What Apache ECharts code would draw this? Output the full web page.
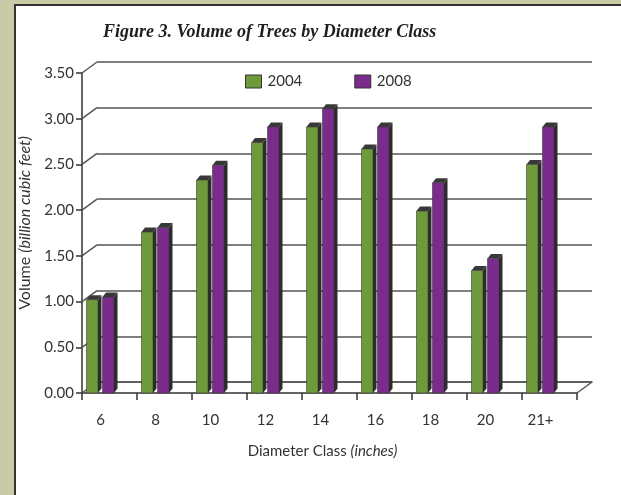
<!DOCTYPE html>
<html>
<head>
<meta charset="utf-8">
<script src="https://cdn.jsdelivr.net/npm/echarts@6/dist/echarts.min.js"></script>
<style>
  html, body { margin: 0; padding: 0; background: #fff; }
  #chart { width: 621px; height: 495px; }
</style>
</head>
<body>
<div id="chart"></div>
<script>
// 数据
var categories = ['6', '8', '10', '12', '14', '16', '18', '20', '21+'];
var vol2004 = [1.02, 1.76, 2.33, 2.74, 2.91, 2.67, 1.99, 1.34, 2.50];
var vol2008 = [1.05, 1.81, 2.49, 2.91, 3.11, 2.91, 2.30, 1.47, 2.91];
var yTicks = [0, 0.5, 1, 1.5, 2, 2.5, 3, 3.5];

var DX = 15, DY = 11;
var labelFont = 'Lato';

// 3D 柱子
var barRenderer = function (shift) {
  return function (params, api) {
    var top = api.coord([api.value(0), api.value(1)]);
    var base = api.coord([api.value(0), 0]);
    var w = 11.5, d = 3.5, h = 4.5;
    var x0 = top[0] + shift, x1 = x0 + w;
    return {
      type: 'group',
      children: [
        {
          type: 'rect',
          shape: { x: x0, y: top[1], width: w, height: base[1] - top[1] },
          style: { fill: api.visual('color'), stroke: '#3a3a3a', lineWidth: 0.6 }
        },
        {
          type: 'polygon',
          shape: { points: [[x1, top[1]], [x1 + d, top[1] - h], [x1 + d, base[1] - h], [x1, base[1]]] },
          style: { fill: '#2c2c2c' }
        },
        {
          type: 'polygon',
          shape: { points: [[x0, top[1]], [x0 + d, top[1] - h], [x1 + d, top[1] - h], [x1, top[1]]] },
          style: { fill: '#383838' }
        }
      ]
    };
  };
};

// 墙面连接线
var connectorRenderer = function (params, api) {
  var p = api.coord([0, api.value(1)]);
  var cs = params.coordSys;
  var children = [{
    type: 'line',
    shape: { x1: cs.x, y1: p[1], x2: cs.x + DX, y2: p[1] - DY },
    style: { stroke: '#555', lineWidth: 1.5 }
  }];
  if (api.value(1) === 0) {
    children.push({
      type: 'line',
      shape: { x1: cs.x + cs.width, y1: p[1], x2: cs.x + cs.width + DX, y2: p[1] - DY },
      style: { stroke: '#555', lineWidth: 1.5 }
    });
  }
  return { type: 'group', children: children };
};

var option = {
  backgroundColor: '#fff',
  animation: false,
  graphic: {
    elements: [
      { type: 'rect', left: 0, top: 0, shape: { width: 14, height: 495 }, style: { fill: '#c9caa6' } },
      { type: 'rect', left: 0, top: 0, shape: { width: 621, height: 4 }, style: { fill: '#c9caa6' } },
      { type: 'rect', left: 14, top: 4, shape: { width: 2, height: 491 }, style: { fill: '#333' } },
      { type: 'rect', left: 14, top: 4, shape: { width: 607, height: 2 }, style: { fill: '#333' } }
    ]
  },
  title: {
    text: 'Figure 3. Volume of Trees by Diameter Class',
    left: 98,
    top: 18,
    textStyle: {
      fontFamily: 'Liberation Serif',
      fontStyle: 'italic',
      fontWeight: 'bold',
      fontSize: 18,
      color: '#1e1e1e'
    }
  },
  legend: {
    data: ['2004', '2008'],
    left: 240,
    top: 69,
    icon: 'rect',
    itemWidth: 16,
    itemHeight: 13,
    itemGap: 52,
    itemStyle: { borderColor: '#333', borderWidth: 1 },
    textStyle: { fontFamily: labelFont, fontSize: 15, color: '#333', padding: [0, 0, 0, 1] }
  },
  grid: [
    { left: 82, top: 73, width: 495, height: 320 },
    { left: 82 + DX, top: 73 - DY, width: 495, height: 320 }
  ],
  xAxis: [
    {
      type: 'category',
      gridIndex: 0,
      data: categories,
      axisLine: { lineStyle: { color: '#333', width: 1.5 } },
      axisTick: { show: true, length: 7, interval: 0, lineStyle: { color: '#333', width: 1.5 } },
      axisLabel: { margin: 20, fontFamily: labelFont, fontSize: 15, color: '#333', padding: [0, 18, 0, 0] },
      name: 'Diameter Class {i|(inches)}',
      nameLocation: 'middle',
      nameGap: 51,
      nameTextStyle: {
        fontFamily: labelFont, fontSize: 15, color: '#333', padding: [0, 14, 0, 0],
        rich: { i: { fontFamily: labelFont, fontSize: 15, fontStyle: 'italic', color: '#333' } }
      }
    },
    {
      type: 'category',
      gridIndex: 1,
      data: categories,
      axisLine: { lineStyle: { color: '#555', width: 1.5 } },
      axisTick: { show: false },
      axisLabel: { show: false }
    }
  ],
  yAxis: [
    {
      type: 'value',
      gridIndex: 0,
      min: 0,
      max: 3.5,
      interval: 0.5,
      axisLine: { show: true, lineStyle: { color: '#333', width: 1.5 } },
      axisTick: { show: true, length: 6, lineStyle: { color: '#333', width: 1.5 } },
      axisLabel: {
        margin: 8, fontFamily: labelFont, fontSize: 15, color: '#333',
        formatter: function (v) { return v.toFixed(2); }
      },
      splitLine: { show: false },
      name: 'Volume {i|(billion cubic feet)}',
      nameLocation: 'middle',
      nameGap: 49,
      nameRotate: 90,
      nameTextStyle: {
        fontFamily: labelFont, fontSize: 16, color: '#333', padding: [0, 0, 0, 20],
        rich: { i: { fontFamily: labelFont, fontSize: 16, fontStyle: 'italic', color: '#333' } }
      }
    },
    {
      type: 'value',
      gridIndex: 1,
      min: 0,
      max: 3.5,
      interval: 0.5,
      axisLine: { show: false },
      axisTick: { show: false },
      axisLabel: { show: false },
      splitLine: { show: true, lineStyle: { color: '#555', width: 1.5 } }
    }
  ],
  series: [
    {
      name: 'connectors',
      type: 'custom',
      xAxisIndex: 0,
      yAxisIndex: 0,
      silent: true,
      renderItem: connectorRenderer,
      data: yTicks.map(function (v) { return [0, v]; }),
      z: 1
    },
    {
      name: '2004',
      type: 'custom',
      xAxisIndex: 0,
      yAxisIndex: 0,
      itemStyle: { color: '#6e9a3b' },
      renderItem: barRenderer(-23),
      encode: { x: 0, y: 1 },
      data: vol2004.map(function (v, i) { return [i, v]; }),
      z: 3
    },
    {
      name: '2008',
      type: 'custom',
      xAxisIndex: 0,
      yAxisIndex: 0,
      itemStyle: { color: '#7a2b8c' },
      renderItem: barRenderer(-7),
      encode: { x: 0, y: 1 },
      data: vol2008.map(function (v, i) { return [i, v]; }),
      z: 3
    }
  ]
};

var myChart = echarts.init(document.getElementById('chart'));
myChart.setOption(option);
</script>
</body>
</html>
